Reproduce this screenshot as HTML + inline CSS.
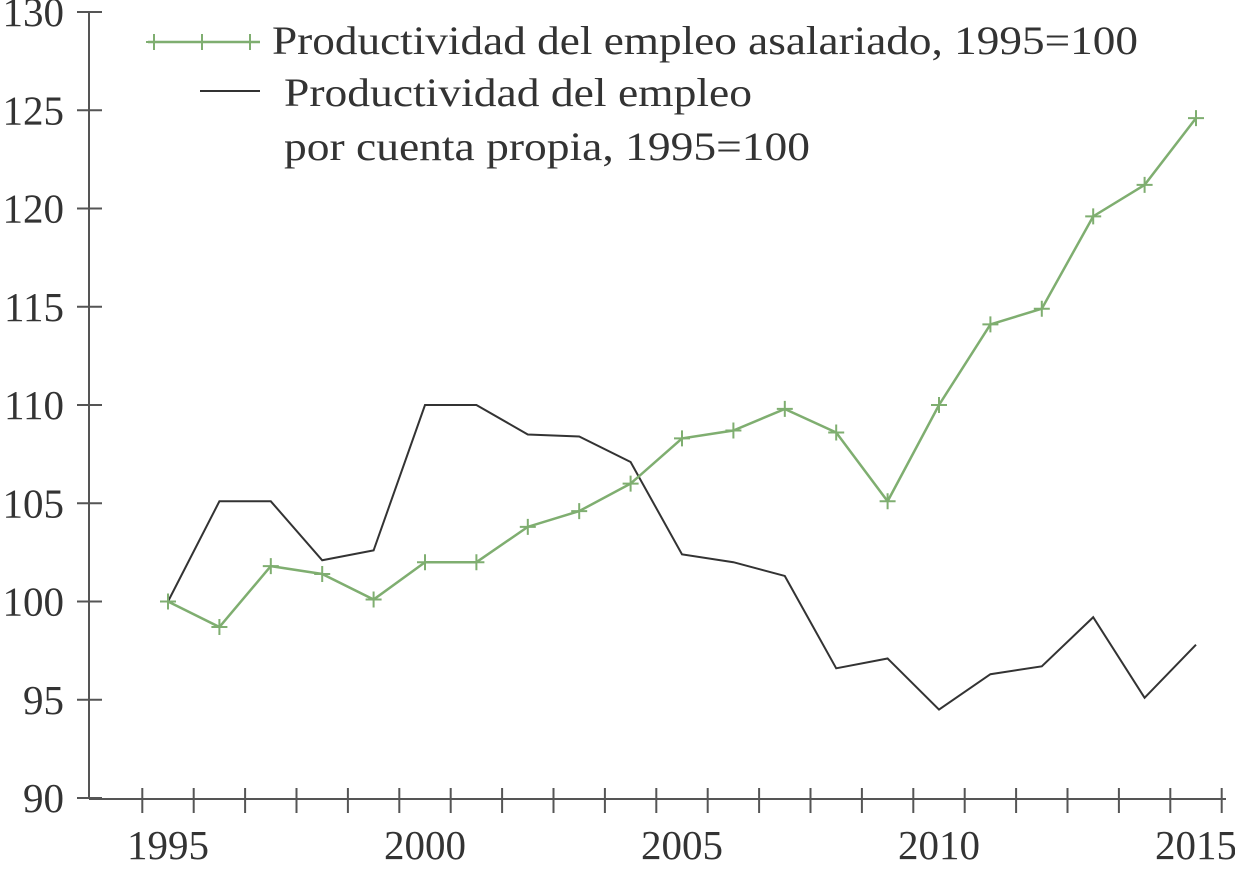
<!DOCTYPE html>
<html><head><meta charset="utf-8"><style>
body{margin:0;background:#fff;}
svg text{font-family:"Liberation Serif",serif;fill:#333;}
</style></head><body>
<svg width="1235" height="866">
<g id="axes"></g><g id="series"></g>
<g>
<line x1="148" y1="42" x2="260" y2="42" stroke="#7fae70" stroke-width="2.5"/>
<g stroke="#7fae70" stroke-width="2"><path d="M154 34v16M146 42h16M202 34v16M194 42h16M250 34v16M242 42h16"/></g>
<text x="272" y="54" font-size="40" textLength="866" lengthAdjust="spacingAndGlyphs">Productividad del empleo asalariado, 1995=100</text>
<line x1="200" y1="91" x2="260" y2="91" stroke="#333" stroke-width="2"/>
<text x="284" y="106" font-size="40" textLength="468" lengthAdjust="spacingAndGlyphs">Productividad del empleo</text>
<text x="284" y="160" font-size="40" textLength="526" lengthAdjust="spacingAndGlyphs">por cuenta propia, 1995=100</text>
</g>
</svg>
<script>
const years=[1995,1996,1997,1998,1999,2000,2001,2002,2003,2004,2005,2006,2007,2008,2009,2010,2011,2012,2013,2014,2015];
const asalariado=[100,98.7,101.8,101.4,100.1,102,102,103.8,104.6,106,108.3,108.7,109.8,108.6,105.1,110,114.1,114.9,119.6,121.2,124.6];
const cuentaPropia=[100,105.1,105.1,102.1,102.6,110,110,108.5,108.4,107.1,102.4,102,101.3,96.6,97.1,94.5,96.3,96.7,99.2,95.1,97.8];
const yTicks=[90,95,100,105,110,115,120,125,130];
const xLabels=[1995,2000,2005,2010,2015];
const NS="http://www.w3.org/2000/svg";
const X=v=>168+(v-1995)*51.4;
const Y=v=>798-(v-90)*19.65;
function mk(tag,attrs,parent){const e=document.createElementNS(NS,tag);for(const k in attrs)e.setAttribute(k,attrs[k]);parent.appendChild(e);return e;}
const ax=document.getElementById('axes'), se=document.getElementById('series');
let l=mk('line',{x1:89,y1:Y(130),x2:89,y2:799,stroke:'#555','stroke-width':2},ax);


l=mk('line',{x1:89,y1:799,x2:1226,y2:799,stroke:'#555','stroke-width':2},ax);


yTicks.forEach(t=>{
 mk('line',{x1:77,x2:102,y1:Y(t),y2:Y(t),stroke:'#555','stroke-width':2},ax);
 const tx=mk('text',{x:64,y:Y(t)+14,'font-size':41,'text-anchor':'end'},ax);tx.textContent=t;
 
 
});
for(let i=0;i<=21;i++){const x=X(1995)-25.7+i*51.4;mk('line',{x1:x,x2:x,y1:788,y2:813,stroke:'#555','stroke-width':2},ax);}
xLabels.forEach(t=>{const tx=mk('text',{x:X(t),y:859,'font-size':41,'text-anchor':'middle'},ax);tx.textContent=t;
 
 });
const pts=a=>a.map((v,i)=>X(years[i])+','+Y(v)).join(' ');
let p=mk('polyline',{points:pts(cuentaPropia),fill:'none',stroke:'#333','stroke-width':2},se);


p=mk('polyline',{points:pts(asalariado),fill:'none',stroke:'#7fae70','stroke-width':2.5},se);


asalariado.forEach((v,i)=>{const x=X(years[i]),y=Y(v);
 const m=mk('path',{d:`M${x} ${y-8}v16M${x-8} ${y}h16`,stroke:'#7fae70','stroke-width':2},se);
 
 });
</script>
</body></html>
